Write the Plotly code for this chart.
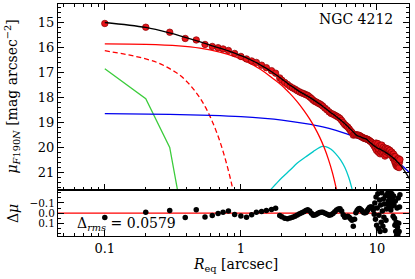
import plotly.graph_objects as go
import math

# ---------------- data ----------------
R_obs = [0.10, 0.20, 0.30, 0.39, 0.47, 0.545, 0.616, 0.68, 0.74, 0.81, 0.90, 1.00, 1.10, 1.20, 1.30,
         1.42, 1.54, 1.68, 1.80, 1.93,
         2.0, 2.1, 2.2, 2.3, 2.4, 2.5, 2.6, 2.7, 2.8, 2.9, 3.0, 3.1, 3.2, 3.3, 3.4, 3.5, 3.6, 3.7,
         3.8, 3.9, 4.0,
         4.15, 4.30, 4.45, 4.60, 4.75, 4.90, 5.05, 5.20, 5.35, 5.50, 5.65, 5.80, 5.95, 6.10, 6.25,
         6.40, 6.55, 6.70, 6.85, 7.00, 7.15, 7.30, 7.45, 7.60, 7.75, 7.90, 8.05, 8.20, 8.35, 8.50,
         8.65, 8.80, 8.95, 9.10, 9.25, 9.40, 9.55,
         9.65, 9.75, 9.85, 9.95, 10.05, 10.15, 10.25, 10.35, 10.45, 10.55, 10.65, 10.75, 10.85,
         10.95, 11.05, 11.15, 11.25, 11.35, 11.45, 11.55, 11.65, 11.75, 11.85, 11.95, 12.05, 12.15,
         12.25, 12.35, 12.45, 12.55, 12.65, 12.75, 12.85, 12.95, 13.05, 13.15, 13.25, 13.35, 13.45,
         13.55, 13.65, 13.75, 13.85, 13.95, 14.05, 14.15, 14.25, 14.35, 14.45, 14.55, 14.65, 14.75]

mu_obs = [15.04, 15.19, 15.39, 15.64, 15.70, 15.88, 15.96, 16.01, 16.06, 16.12, 16.24, 16.36, 16.46,
          16.54, 16.60, 16.71, 16.81, 16.93, 17.03, 17.22,
          17.31, 17.40, 17.48, 17.56, 17.62, 17.67, 17.73, 17.78, 17.82, 17.85, 17.89, 17.92, 17.98,
          18.04, 18.11, 18.16, 18.19, 18.23, 18.26, 18.30, 18.35,
          18.43, 18.50, 18.58, 18.64, 18.67, 18.71, 18.75, 18.79, 18.84, 18.92, 19.01, 19.09, 19.14,
          19.19, 19.26, 19.34, 19.40, 19.51, 19.50, 19.49, 19.51, 19.51, 19.53, 19.56, 19.59, 19.61,
          19.64, 19.65, 19.66, 19.68, 19.70, 19.73, 19.76, 19.79, 19.83, 19.89, 19.95,
          19.86, 20.04, 19.83, 20.13, 19.98, 19.85, 20.20, 20.08, 19.94, 20.26, 20.01, 20.19, 19.91,
          20.10, 20.26, 20.00, 20.20, 20.08, 20.35, 20.03, 20.28, 20.18, 20.06, 20.16, 20.07, 20.16,
          20.24, 20.15, 20.12, 20.24, 20.32, 20.22, 20.19, 20.32, 20.28, 20.45, 20.27, 20.37, 20.51,
          20.60, 20.37, 20.69, 20.61, 20.76, 20.50, 20.71, 20.79, 20.45, 20.72, 20.81, 20.59, 20.49]

delta_mu = [0.044, -0.010, -0.026, 0.044, -0.033, 0.039, 0.022, 0.003, -0.010, -0.020, 0.013, 0.029,
            0.040, 0.016, -0.010, -0.016, -0.026, -0.036, -0.048, 0.022,
            0.035, 0.050, 0.054, 0.048, 0.040, 0.030, 0.018, 0.005, -0.005, -0.015, -0.025, -0.033,
            -0.022, 0.000, 0.020, 0.018, 0.010, 0.000, -0.006, -0.009, -0.010,
            0.000, 0.012, 0.020, 0.015, 0.003, -0.015, -0.030, -0.040, -0.043, -0.020, 0.015, 0.040,
            0.035, 0.030, 0.040, 0.055, 0.070, 0.130, 0.060, -0.005, -0.025, -0.040, -0.045, -0.035,
            -0.025, -0.012, -0.005, -0.005, -0.010, -0.025, -0.042, -0.055, -0.060, -0.060, -0.055,
            -0.030, 0.010,
            -0.10, 0.06, -0.16, 0.12, -0.05, -0.19, 0.15, 0.02, -0.13, 0.18, -0.08, 0.09, -0.20,
            -0.02, 0.13, -0.14, 0.04, -0.09, 0.17, -0.17, 0.07, -0.04, -0.18, -0.09, -0.20, -0.12,
            -0.06, -0.16, -0.21, -0.10, -0.03, -0.15, -0.19, -0.07, -0.13, 0.03, -0.17, -0.08, 0.05,
            0.12, -0.12, 0.18, 0.09, 0.22, -0.05, 0.14, 0.21, -0.15, 0.10, 0.18, -0.06, -0.18]

R_model = [0.10, 0.20, 0.30, 0.39, 0.47, 0.545, 0.616, 0.68, 0.74, 0.81, 0.90, 1.00, 1.10, 1.20, 1.30,
           1.42, 1.54, 1.68, 1.80, 1.93, 2.05, 2.14, 2.25, 2.36, 2.46, 2.56, 2.70, 2.87, 3.00, 3.12,
           3.25, 3.40, 3.55, 3.70, 3.85, 4.02, 4.20, 4.35, 4.50, 4.70, 4.90, 5.10, 5.34, 5.55, 5.80,
           6.05, 6.30, 6.50, 6.67, 6.90, 7.10, 7.30, 7.50, 7.70, 7.95, 8.20, 8.40, 8.60, 8.80, 9.00,
           9.20, 9.40, 9.60, 10.0, 10.5, 11.0, 11.5, 12.0, 12.5, 13.0, 13.5, 14.0, 14.7, 15.5, 16.3, 17.3]
mu_model = [15.00, 15.20, 15.42, 15.60, 15.73, 15.84, 15.94, 16.01, 16.07, 16.14, 16.23, 16.33, 16.42,
            16.52, 16.61, 16.73, 16.84, 16.97, 17.08, 17.20, 17.31, 17.38, 17.48, 17.55, 17.62, 17.68,
            17.77, 17.85, 17.91, 17.96, 18.02, 18.09, 18.16, 18.23, 18.29, 18.37, 18.45, 18.51, 18.58,
            18.65, 18.72, 18.80, 18.88, 18.96, 19.05, 19.14, 19.24, 19.31, 19.37, 19.46, 19.52, 19.55,
            19.57, 19.60, 19.63, 19.65, 19.68, 19.73, 19.78, 19.83, 19.87, 19.92, 19.95, 20.02, 20.07,
            20.13, 20.19, 20.26, 20.33, 20.40, 20.47, 20.56, 20.68, 20.84, 21.02, 21.25]

R_bulge = [0.10, 0.20, 0.35, 0.50, 0.70, 0.90, 1.10, 1.40, 1.70, 2.00, 2.30, 2.60, 2.90, 3.20, 3.50,
           3.80, 4.10, 4.40, 4.70, 5.00, 5.30]
mu_bulge = [15.86, 15.88, 15.94, 16.03, 16.19, 16.37, 16.57, 16.88, 17.22, 17.52, 17.85, 18.18, 18.52,
            18.86, 19.22, 19.60, 20.02, 20.48, 21.00, 21.60, 22.25]

R_bar = [0.10, 0.15, 0.20, 0.25, 0.30, 0.35, 0.40, 0.45, 0.50, 0.55, 0.60, 0.65, 0.70, 0.75, 0.80,
         0.85, 0.90]
mu_bar = [16.13, 16.30, 16.46, 16.63, 16.85, 17.08, 17.36, 17.68, 18.02, 18.40, 18.82, 19.27, 19.75,
          20.27, 20.82, 21.40, 22.00]

R_psf = [0.10, 0.20, 0.30, 0.39]
mu_psf = [16.85, 18.05, 20.00, 23.40]

R_disk = [0.10, 0.30, 0.60, 1.0, 1.5, 2.0, 3.0, 4.0, 5.0, 6.0, 7.0, 8.0, 9.0, 10.0, 11.0, 12.0, 13.0,
          14.0, 15.0, 16.0, 17.0, 17.5]
mu_disk = [18.65, 18.68, 18.72, 18.77, 18.84, 18.91, 19.05, 19.18, 19.32, 19.46, 19.60, 19.73, 19.87,
           20.01, 20.15, 20.28, 20.42, 20.56, 20.69, 20.83, 20.97, 21.03]

R_ring = [1.50, 1.60, 1.80, 2.00, 2.30, 2.60, 3.00, 3.40, 3.80, 4.00, 4.20, 4.60, 5.00, 5.40, 5.80,
          6.20, 6.50, 6.80]
mu_ring = [21.95, 21.78, 21.48, 21.22, 20.91, 20.63, 20.38, 20.17, 20.00, 19.96, 19.97, 20.08, 20.27,
           20.50, 20.80, 21.20, 21.58, 22.00]

x_range = [0.0453, 17.2]
mu_range = [21.72, 14.26]
dmu_range = [0.225, -0.225]
x_ticks = [0.1, 1, 10]
x_ticktext = ["0.1", "1", "10"]
x_minor = [0.05, 0.06, 0.07, 0.08, 0.09, 0.2, 0.3, 0.4, 0.5, 0.6, 0.7, 0.8, 0.9,
           2, 3, 4, 5, 6, 7, 8, 9]
dmu_ticks = [-0.1, 0.0, 0.1]
dmu_ticktext = ["\u22120.1", "0.0", "0.1"]
label_galaxy = "NGC 4212"
label_rms = "\u0394<sub><i>rms</i></sub> = 0.0579"
title_y = "<i>μ</i><sub><i>F</i>190<i>N</i></sub> [mag arcsec<sup>\u22122</sup>]"
title_y2 = "Δ<i>μ</i>"
title_x = "<i>R</i><sub>eq</sub> [arcsec]"

# ---------------- figure ----------------
FONT = "DejaVu Serif"
fig = go.Figure()

line_w = 1.3
fig.add_trace(go.Scatter(x=R_psf, y=mu_psf, mode="lines", line=dict(color="#3ccc3c", width=line_w),
                         xaxis="x", yaxis="y"))
fig.add_trace(go.Scatter(x=R_bar, y=mu_bar, mode="lines",
                         line=dict(color="#ff0000", width=line_w, dash="5px,3px", shape="spline"),
                         xaxis="x", yaxis="y"))
fig.add_trace(go.Scatter(x=R_ring, y=mu_ring, mode="lines",
                         line=dict(color="#00c8c8", width=line_w, shape="spline"),
                         xaxis="x", yaxis="y"))
fig.add_trace(go.Scatter(x=R_disk, y=mu_disk, mode="lines",
                         line=dict(color="#0000ee", width=line_w, shape="spline"),
                         xaxis="x", yaxis="y"))
fig.add_trace(go.Scatter(x=R_bulge, y=mu_bulge, mode="lines",
                         line=dict(color="#ff0000", width=line_w, shape="spline"),
                         xaxis="x", yaxis="y"))
fig.add_trace(go.Scatter(x=R_obs, y=mu_obs, mode="markers",
                         marker=dict(color="#e8141a", size=6.5, line=dict(color="#8a0000", width=0.7)),
                         xaxis="x", yaxis="y"))
fig.add_trace(go.Scatter(x=R_model, y=mu_model, mode="lines",
                         line=dict(color="black", width=line_w, shape="spline"),
                         xaxis="x", yaxis="y"))

# residual panel
fig.add_trace(go.Scatter(x=R_obs, y=delta_mu, mode="markers",
                         marker=dict(color="black", size=5.5, line=dict(width=0)),
                         xaxis="x2", yaxis="y2"))

lx = [math.log10(v) for v in x_range]
axis_common = dict(showline=True, linecolor="black", linewidth=1, ticks="inside",
                   tickcolor="black", tickwidth=1, showgrid=False, zeroline=False,
                   automargin=False,
                   tickfont=dict(family=FONT, size=13, color="black"))

L, R, T, B = 58, 6, 4, 43
W, H = 415, 279
ph = H - T - B
pw = W - L - R
split = 45.7 / ph


def px_x(xp):
    return (xp - L) / pw


def px_y(yp):
    return (H - B - yp) / ph


fig.update_layout(
    template="none",
    width=W, height=H,
    margin=dict(l=L, r=R, t=T, b=B, pad=0),
    paper_bgcolor="white", plot_bgcolor="white",
    showlegend=False,
    font=dict(family=FONT, size=13, color="black"),
    xaxis=dict(type="log", range=lx, anchor="y", domain=[0, 1], matches="x2",
               showticklabels=False, tickvals=x_ticks, ticklen=6, mirror="ticks",
               minor=dict(tickvals=x_minor, ticks="inside", ticklen=3, tickcolor="black", showgrid=False),
               **axis_common),
    yaxis=dict(range=mu_range, domain=[split, 1], anchor="x", dtick=1, ticklen=6, mirror="ticks",
               minor=dict(dtick=0.2, ticks="inside", ticklen=3, tickcolor="black", showgrid=False),
               **axis_common),
    xaxis2=dict(type="log", range=lx, anchor="y2", domain=[0, 1],
                tickvals=x_ticks, ticktext=x_ticktext, ticklen=6, mirror=True,
                minor=dict(tickvals=x_minor, ticks="inside", ticklen=3, tickcolor="black", showgrid=False),
                **axis_common),
    yaxis2=dict(range=dmu_range, domain=[0, split], anchor="x2", tickvals=dmu_ticks,
                ticktext=dmu_ticktext, ticklen=6, mirror="ticks",
                minor=dict(dtick=0.05, ticks="inside", ticklen=3, tickcolor="black", showgrid=False),
                **axis_common),
)
fig.layout.yaxis2.tickfont = dict(family=FONT, size=10.5, color="black")

fig.add_hline(y=0, line=dict(color="#ff0000", width=1.3), xref="x2", yref="y2", layer="below")

# axis titles as annotations
fig.add_annotation(text=title_y, xref="paper", yref="paper", x=px_x(12.5), y=px_y(97),
                   textangle=-90, showarrow=False, xanchor="center", yanchor="middle",
                   font=dict(family=FONT, size=14, color="black"))
fig.add_annotation(text=title_y2, xref="paper", yref="paper", x=px_x(12.5), y=px_y(213.5),
                   textangle=-90, showarrow=False, xanchor="center", yanchor="middle",
                   font=dict(family=FONT, size=14, color="black"))
fig.add_annotation(text=title_x, xref="paper", yref="paper", x=px_x(235), y=px_y(265),
                   showarrow=False, xanchor="center", yanchor="middle",
                   font=dict(family=FONT, size=14, color="black"))

fig.add_annotation(text=label_galaxy, xref="paper", yref="paper", x=px_x(395), y=px_y(19),
                   xanchor="right", yanchor="middle", showarrow=False,
                   font=dict(family=FONT, size=14, color="black"))
fig.add_annotation(text=label_rms, xref="paper", yref="paper", x=px_x(75), y=px_y(224),
                   xanchor="left", yanchor="middle", showarrow=False,
                   font=dict(family=FONT, size=14, color="black"))

fig.write_html("out.html", config={"displayModeBar": False},
               post_script="document.body.style.margin='0px';document.body.style.overflow='hidden';")
